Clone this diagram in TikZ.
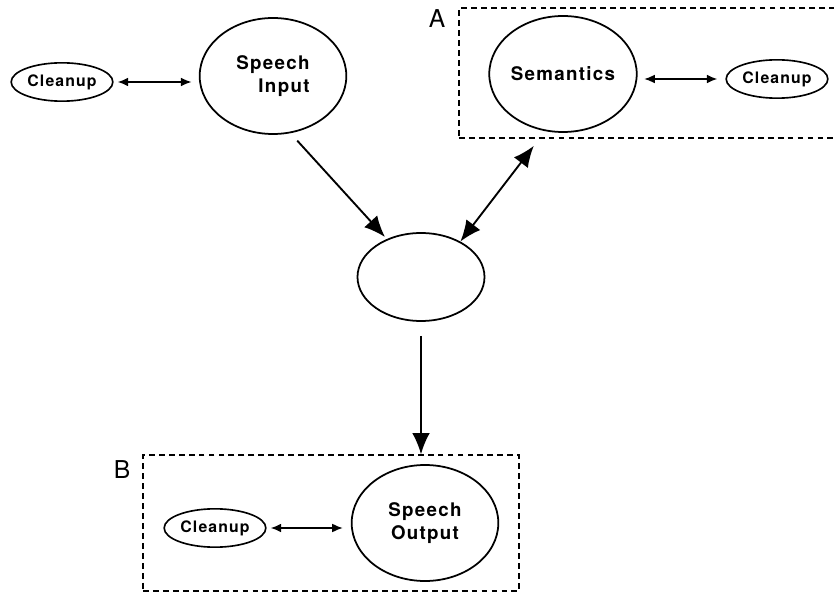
\documentclass[tikz,border=0pt]{standalone}
\usepackage{fontspec}
\setmainfont{TeX Gyre Heros}
\newfontfamily\lblfont[LetterSpace=7]{TeX Gyre Heros}
\usetikzlibrary{shapes.geometric,arrows.meta}

\begin{document}
\begin{tikzpicture}[x=0.03cm,y=-0.03cm,
    bigell/.style={draw,ellipse,line width=1.5pt,inner sep=0pt,
      minimum width=4.4cm,minimum height=3.48cm,
      font={\lblfont\bfseries\fontsize{16}{19.6}\selectfont}},
    smallell/.style={draw,ellipse,line width=1.4pt,inner sep=0pt,
      minimum width=3.05cm,minimum height=1.15cm,
      font={\lblfont\bfseries\fontsize{13.5}{15}\selectfont}},
    groupbox/.style={draw,dash pattern=on 5pt off 3.5pt,line width=1.2pt,
      inner sep=0pt},
    grouplbl/.style={font={\fontsize{21}{24}\selectfont}},
    bigarrow/.style={line width=1.6pt,-{Latex[length=18pt,width=15pt]}},
    bigdbl/.style={line width=1.6pt,
      {Latex[length=18pt,width=15pt]}-{Latex[length=18pt,width=15pt]}},
    smallarrow/.style={line width=1.2pt,
      {Latex[length=9pt,width=7.5pt]}-{Latex[length=9pt,width=7.5pt]}}]
    \useasboundingbox (0,0) rectangle (834,595);

    \node[groupbox,minimum width=11.31cm,minimum height=3.9cm] (boxA)
      at (647.5,73) {};
    \node[grouplbl] (lblA) at (437,19) {A};
    \node[groupbox,minimum width=11.28cm,minimum height=4.08cm] (boxB)
      at (331,523) {};
    \node[grouplbl] (lblB) at (122,470) {B};

    \node[smallell] (cleanL) at (62,82) {Cleanup};
    \node[bigell,align=right] (inp) at (273,76) {Speech\\Input};
    \node[bigell] (sem) at (563,74) {Semantics};
    \node[smallell] (cleanR) at (777,79) {Cleanup};
    \node[draw,ellipse,line width=1.5pt,minimum width=3.81cm,
      minimum height=2.64cm] (mid) at (421,277) {};
    \node[smallell] (cleanB) at (215,528) {Cleanup};
    \node[bigell,align=center] (out) at (425,523) {Speech\\Output};

    \draw[smallarrow,shorten <=0.12cm,shorten >=0.22cm]
      (cleanL.east) -- (cleanL.east -| inp.west);
    \draw[smallarrow,shorten <=0.2cm,shorten >=0.24cm]
      (sem.east |- cleanR.west) -- (cleanR.west);
    \draw[smallarrow,shorten <=0.12cm,shorten >=0.24cm]
      (cleanB.east) -- (cleanB.east -| out.west);

    \draw[bigarrow,shorten <=0.3cm,shorten >=0.08cm] (inp.-73) -- (mid.132);
    \draw[bigdbl,shorten >=0.27cm] (mid.42) --
      ([xshift=2.43cm]boxA.south west);
    \draw[bigarrow,shorten <=0.42cm] (mid.south) -- (mid.south |- boxB.north);
  \end{tikzpicture}
\end{document}
